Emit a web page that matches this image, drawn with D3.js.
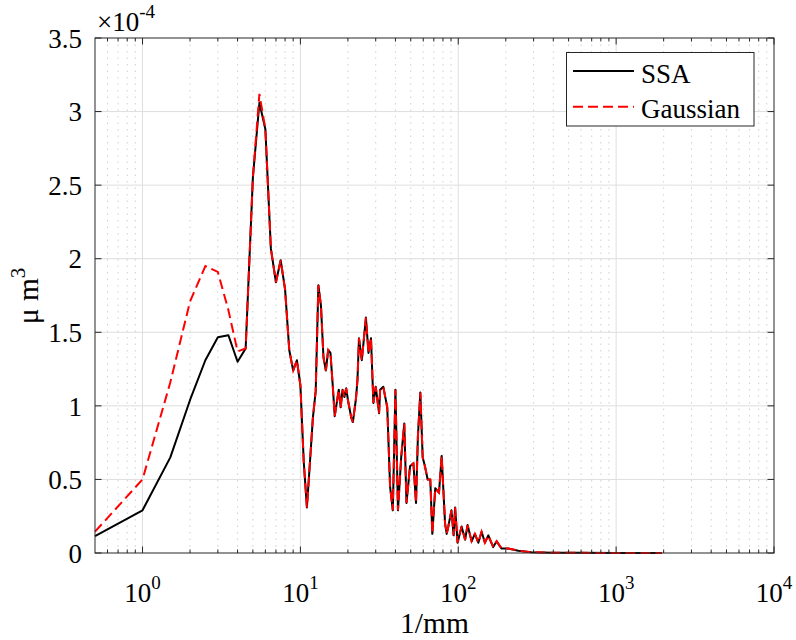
<!DOCTYPE html>
<html>
<head>
<meta charset="utf-8">
<script src="https://cdn.jsdelivr.net/npm/d3@7"></script>
<style>
  body { margin: 0; background: #fff; }
  svg { display: block; }
  text { font-family: "Liberation Serif", "Times New Roman", serif; fill: #000; }
</style>
</head>
<body>
<svg id="chart" width="796" height="640"></svg>
<script>
// spatial frequency (1/mm)
const freq = [0.5, 1, 1.5, 2, 2.5, 3, 3.5, 4, 4.5, 5, 5.5, 6, 6.5, 7, 7.5, 8, 8.5, 9, 9.5, 10,
  10.5, 11, 11.5, 12, 12.5, 13, 13.5, 14, 14.5, 15, 15.5, 16, 16.5, 17.5, 18, 18.5, 19, 19.5, 20,
  21, 21.5, 22.5, 23, 23.5, 24.5, 26, 27, 28, 29, 30, 31.5, 32, 33.5, 35.5, 37, 38.5, 40, 41.5,
  43.5, 45.5, 47, 49.5, 52, 54, 55.5, 57.5, 59.5, 61.5, 64, 66.5, 68.5, 71.5, 75.5, 78.5, 82.5,
  84.5, 86.5, 90.5, 93.5, 95.5, 99, 105, 110.5, 114.5, 121.5, 127.5, 134, 140.5, 147.5, 155,
  166.5, 175, 188, 207, 240, 290, 400, 600, 1000, 1950];

// SSA spectrum (x 1e-4)
const ssa = [0.115, 0.29, 0.65, 1.04, 1.31, 1.466, 1.48, 1.30, 1.39, 2.55, 3.06, 2.88, 2.07, 1.84, 1.99, 1.79, 1.38, 1.24, 1.31, 1.14,
  0.62, 0.31, 0.62, 0.92, 1.1, 1.82, 1.68, 1.33, 1.24, 1.38, 1.36, 1.15, 0.93, 1.11, 0.99, 1.11, 1.06, 1.12, 1.04,
  0.92, 0.89, 1.05, 1.18, 1.46, 1.31, 1.60, 1.36, 1.46, 1.02, 1.13, 0.95, 1.11, 1.13, 0.99, 0.45, 0.29, 1.11, 0.29,
  0.65, 0.88, 0.34, 0.59, 0.61, 0.34, 0.79, 1.09, 0.65, 0.59, 0.50, 0.50, 0.13, 0.44, 0.41, 0.66, 0.20,
  0.13, 0.18, 0.29, 0.12, 0.31, 0.07, 0.18, 0.09, 0.19, 0.08, 0.13, 0.07, 0.145, 0.07, 0.12,
  0.04, 0.08, 0.03, 0.03, 0.016, 0.005, 0.002, 0.001, 0, 0];

// Gaussian spectrum differs only at the low end, then follows SSA
const gaussLow = [0.145, 0.50, 1.16, 1.71, 1.95, 1.91, 1.65, 1.37, 1.39, 2.55, 3.12];
const gaussian = gaussLow.concat(ssa.slice(gaussLow.length));

const xMajorExp = [0, 1, 2, 3, 4];
const yTicks = [0, 0.5, 1, 1.5, 2, 2.5, 3, 3.5];
const yExponent = -4;
const seriesNames = ["SSA", "Gaussian"];

const svg = d3.select("#chart");
const margin = { left: 95, right: 22, top: 38, bottom: 87 };
const W = +svg.attr("width") - margin.left - margin.right;
const H = +svg.attr("height") - margin.top - margin.bottom;
const axisColor = "#262626";

const g = svg.append("g").attr("transform", `translate(${margin.left},${margin.top})`);

const x = d3.scaleLog().domain([0.5, 1e4]).range([0, W]);
const y = d3.scaleLinear().domain([0, 3.5]).range([H, 0]);

const allTicks = x.ticks();
const majorVals = xMajorExp.map(e => Math.pow(10, e));
const isMajor = v => majorVals.some(m => Math.abs(m - v) < 1e-9);
const minorTicks = allTicks.filter(v => !isMajor(v) && v > 0.5 && v < 1e4);

// grid
const grid = g.append("g");
grid.selectAll(".minor").data(minorTicks).enter().append("line")
  .attr("x1", d => x(d)).attr("x2", d => x(d)).attr("y1", 0).attr("y2", H)
  .attr("stroke", "#c4c4c4").attr("stroke-width", 0.8).attr("stroke-dasharray", "1.5,5");
grid.selectAll(".major").data(majorVals.filter(v => v < 1e4)).enter().append("line")
  .attr("x1", d => x(d)).attr("x2", d => x(d)).attr("y1", 0).attr("y2", H)
  .attr("stroke", "#dedede").attr("stroke-width", 1);
grid.selectAll(".ygrid").data(yTicks.slice(1, -1)).enter().append("line")
  .attr("x1", 0).attr("x2", W).attr("y1", d => y(d)).attr("y2", d => y(d))
  .attr("stroke", "#dedede").attr("stroke-width", 1);

// curves
const line = d3.line().x(d => x(d[0])).y(d => y(d[1]));
g.append("path").datum(freq.map((f, i) => [f, ssa[i]]))
  .attr("d", line).attr("fill", "none").attr("stroke", "#000").attr("stroke-width", 2)
  .attr("stroke-linejoin", "round");
g.append("path").datum(freq.map((f, i) => [f, gaussian[i]]))
  .attr("d", line).attr("fill", "none").attr("stroke", "#ff0000").attr("stroke-width", 2)
  .attr("stroke-dasharray", "10,5");

// box and ticks
g.append("rect").attr("width", W).attr("height", H)
  .attr("fill", "none").attr("stroke", axisColor).attr("stroke-width", 1);

const ticks = g.append("g").attr("stroke", axisColor).attr("stroke-width", 1);
[0, H].forEach(yy => {
  const dir = yy === 0 ? 1 : -1;
  ticks.selectAll(null).data(majorVals).enter().append("line")
    .attr("x1", d => x(d)).attr("x2", d => x(d)).attr("y1", yy).attr("y2", yy + dir * 6.5);
  ticks.selectAll(null).data(minorTicks).enter().append("line")
    .attr("x1", d => x(d)).attr("x2", d => x(d)).attr("y1", yy).attr("y2", yy + dir * 3.5);
});
[0, W].forEach(xx => {
  const dir = xx === 0 ? 1 : -1;
  ticks.selectAll(null).data(yTicks).enter().append("line")
    .attr("x1", xx).attr("x2", xx + dir * 6.5).attr("y1", d => y(d)).attr("y2", d => y(d));
});

// x tick labels
const xl = g.append("g");
xMajorExp.forEach(e => {
  const t = xl.append("text").attr("x", x(Math.pow(10, e))).attr("y", H + 49)
    .attr("text-anchor", "middle").attr("font-size", 27);
  t.append("tspan").text("10");
  t.append("tspan").attr("font-size", 19).attr("dy", -13.5).text(e);
});

// y tick labels
g.append("g").selectAll("text").data(yTicks).enter().append("text")
  .attr("x", -13).attr("y", d => y(d)).attr("dy", "0.36em")
  .attr("text-anchor", "end").attr("font-size", 27)
  .text(d => d3.format("~g")(d));

// exponent
const ex = g.append("text").attr("x", 2).attr("y", -7).attr("font-size", 27);
ex.append("tspan").text("\u00d710");
ex.append("tspan").attr("font-size", 19).attr("dy", -13).text(yExponent);

// axis labels
svg.append("text").attr("x", margin.left + W / 2).attr("y", 633)
  .attr("text-anchor", "middle").attr("font-size", 29.5).text("1/mm");
const yl = svg.append("text").attr("transform", "translate(38,296) rotate(-90)")
  .attr("text-anchor", "middle").attr("font-size", 29.5);
yl.append("tspan").text("\u03bc m");
yl.append("tspan").attr("font-size", 21).attr("dy", -13).text("3");

// legend
const lg = svg.append("g");
lg.append("rect").attr("x", 566.5).attr("y", 52.5).attr("width", 187.5).attr("height", 73.5)
  .attr("fill", "#fff").attr("stroke", axisColor).attr("stroke-width", 1);
const legendStyles = [
  { color: "#000", dash: null },
  { color: "#ff0000", dash: "10,5" }
];
seriesNames.forEach((name, i) => {
  const cy = 71 + i * 35.7;
  lg.append("line").attr("x1", 573).attr("x2", 634).attr("y1", cy).attr("y2", cy)
    .attr("stroke", legendStyles[i].color).attr("stroke-width", 2)
    .attr("stroke-dasharray", legendStyles[i].dash);
  lg.append("text").attr("x", 641).attr("y", cy + 11.5).attr("font-size", 27).text(name);
});
</script>
</body>
</html>
